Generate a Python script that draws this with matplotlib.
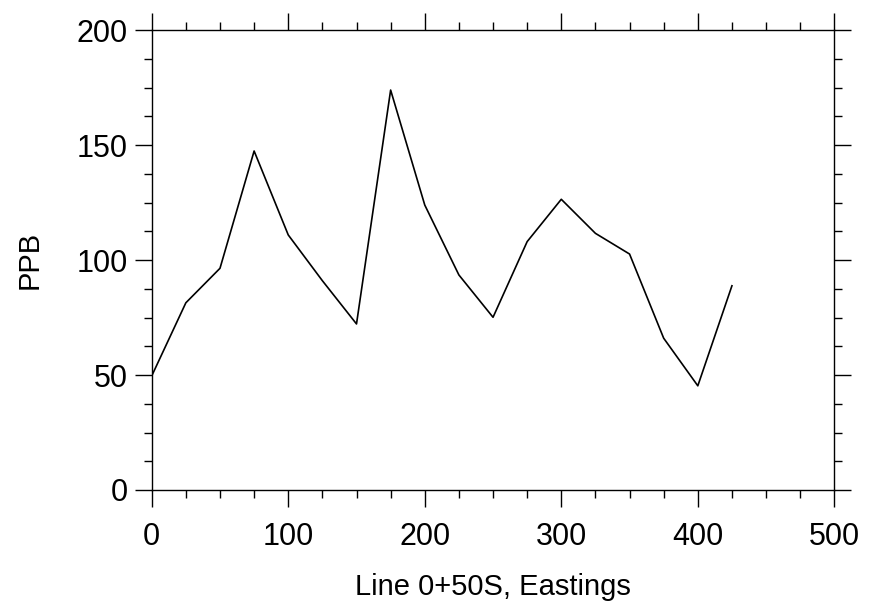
import matplotlib
matplotlib.use("Agg")
import matplotlib.pyplot as plt
from matplotlib.ticker import MultipleLocator

# data
eastings = [0, 25, 50, 75, 100, 125, 150, 175, 200, 225, 250, 275, 300, 325, 350, 375, 400, 425]
ppb = [49.6, 81.4, 96.4, 147.4, 110.9, 91, 72.2, 173.9, 123.9, 93.5, 75.1, 108, 126.4, 111.6, 102.6, 66, 45.3, 88.8]

plt.rcParams['font.family'] = ['Liberation Sans', 'DejaVu Sans']

fig = plt.figure(figsize=(8.7, 6.03), dpi=100)
ax = fig.add_axes([0.1744, 0.1874, 0.9590 - 0.1744, 0.9502 - 0.1874])

ax.plot(eastings, ppb, color='black', linewidth=1.2)

ax.set_xlim(0, 500)
ax.set_ylim(0, 200)
ax.xaxis.set_major_locator(MultipleLocator(100))
ax.xaxis.set_minor_locator(MultipleLocator(25))
ax.yaxis.set_major_locator(MultipleLocator(50))
ax.yaxis.set_minor_locator(MultipleLocator(12.5))

# ticks outward on all four sides
ax.tick_params(which='both', direction='out', top=True, right=True, width=1.0, colors='black')
ax.tick_params(which='major', length=12, labelsize=22)
ax.tick_params(which='minor', length=6)
ax.tick_params(axis='x', which='major', pad=11)
ax.tick_params(axis='y', which='major', pad=5)

for s in ax.spines.values():
    s.set_linewidth(1.0)

ax.set_xlabel("Line 0+50S, Eastings", fontsize=21, labelpad=15)
ax.set_ylabel("PPB", fontsize=21, labelpad=24)

fig.savefig("out.png", dpi=100)
